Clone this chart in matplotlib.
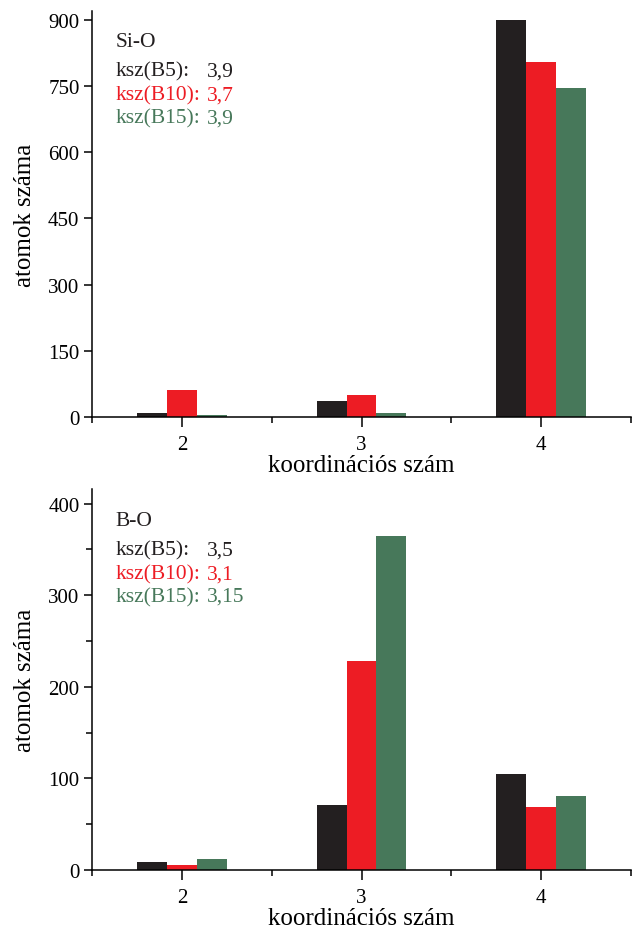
import numpy as np
import matplotlib.pyplot as plt

plt.rcParams['font.family'] = ['Liberation Serif', 'DejaVu Serif']

# adatok
kszam = [2, 3, 4]
series = ['B5', 'B10', 'B15']
colors = ['#231f20', '#ed1c24', '#47785a']

si_o = {'B5': [10, 36, 900], 'B10': [61, 49, 805], 'B15': [5, 10, 745]}
b_o = {'B5': [9, 71, 105], 'B10': [5, 228, 69], 'B15': [12, 365, 81]}

si_o_ksz = ['3,9', '3,7', '3,9']
b_o_ksz = ['3,5', '3,1', '3,15']

W, H = 633, 929
fig = plt.figure(figsize=(W / 100, H / 100), dpi=100)

ax1 = fig.add_axes([92 / W, (H - 418) / H, 539 / W, 406 / H])
ax2 = fig.add_axes([92 / W, (H - 871) / H, 539 / W, 381 / H])

width = 1 / 6
offs = [-width, 0, width]


def draw(ax, data, title, ksz, ylim, yticks, yminor, ypos):
    x = np.array(kszam, dtype=float)
    for s, c, o in zip(series, colors, offs):
        ax.bar(x + o, data[s], width=width, color=c, linewidth=0)
    ax.set_xlim(1.5, 4.5)
    ax.set_ylim(*ylim)
    ax.set_xticks(kszam)
    ax.set_xticks([1.5, 2.5, 3.5, 4.5], minor=True)
    ax.set_yticks(yticks)
    if yminor is not None:
        ax.set_yticks(yminor, minor=True)
    else:
        ax.set_yticks([], minor=True)
    for sp in ['top', 'right']:
        ax.spines[sp].set_visible(False)
    for sp in ['left', 'bottom']:
        ax.spines[sp].set_linewidth(1.1)
    ax.tick_params(which='major', length=6, width=1.1, labelsize=15, pad=3)
    ax.tick_params(axis='x', which='major', length=7, pad=6)
    ax.tick_params(which='minor', length=4, width=1.1)
    ax.set_xlabel('koordinációs szám', fontsize=18, labelpad=0)
    ax.set_ylabel('atomok száma', fontsize=18, labelpad=9)

    ax.text(0.043, ypos[0], title, transform=ax.transAxes, fontsize=15.5,
            va='center', color=colors[0])
    for i, (s, c) in enumerate(zip(series, colors)):
        ax.text(0.043, ypos[i + 1], f'ksz({s}):', transform=ax.transAxes,
                fontsize=15.5, va='center', color=c)
        ax.text(0.213, ypos[i + 1], ksz[i], transform=ax.transAxes,
                fontsize=15.5, va='center', color=c)


draw(ax1, si_o, 'Si-O', si_o_ksz, (0, 920), [0, 150, 300, 450, 600, 750, 900],
     None, [0.924, 0.852, 0.793, 0.736])
draw(ax2, b_o, 'B-O', b_o_ksz, (0, 416), [0, 100, 200, 300, 400],
     [50, 150, 250, 350], [0.917, 0.841, 0.777, 0.718])

fig.savefig('out.png', dpi=100)
